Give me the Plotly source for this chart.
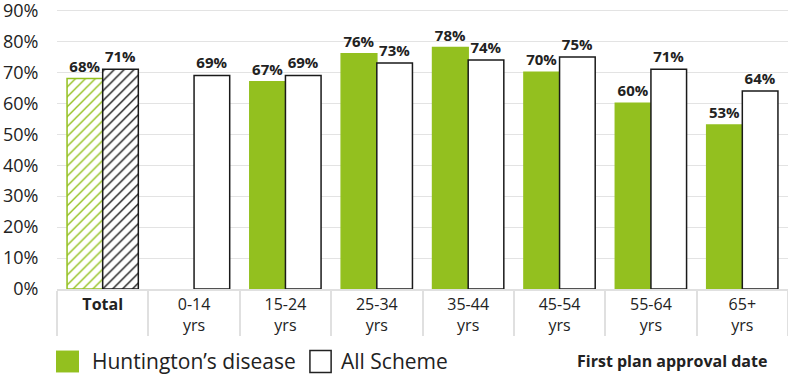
import plotly.graph_objects as go

categories = ["Total", "0-14 yrs", "15-24 yrs", "25-34 yrs", "35-44 yrs", "45-54 yrs", "55-64 yrs", "65+ yrs"]
tick_labels = ["<b>Total</b>", "0-14<br>yrs", "15-24<br>yrs",
               "25-34<br>yrs", "35-44<br>yrs", "45-54<br>yrs", "55-64<br>yrs", "65+<br>yrs"]
hd_values = [68, None, 67, 76, 78, 70, 60, 53]
all_values = [71, 69, 69, 73, 74, 75, 71, 64]
y_ticks = [0, 10, 20, 30, 40, 50, 60, 70, 80, 90]
y_tick_text = [f"{v}%" for v in y_ticks]

hd_text = ["" if v is None else f"{v}%" for v in hd_values]
all_text = [f"{v}%" for v in all_values]

GREEN = "#93C01F"
BLACK = "#1a1a1a"
FONT = "Open Sans"

n = len(categories)
pattern_shapes = ["/"] + [""] * (n - 1)

fig = go.Figure()
fig.add_trace(go.Bar(
    x=categories, y=hd_values, name="Huntington’s disease",
    marker=dict(
        color=GREEN,
        line=dict(color=GREEN, width=1.5),
        pattern=dict(shape=pattern_shapes, fgcolor=GREEN, bgcolor="white",
                     size=7, solidity=0.2, fillmode="replace"),
    ),
    text=hd_text, texttemplate="<b>%{text}</b>", textposition="outside", constraintext="none",
    textfont=dict(size=15, color="#222", family=FONT),
    cliponaxis=False, showlegend=False,
))
fig.add_trace(go.Bar(
    x=categories, y=all_values, name="All Scheme",
    marker=dict(
        color="white",
        line=dict(color=BLACK, width=1.5),
        pattern=dict(shape=pattern_shapes, fgcolor=BLACK, bgcolor="white",
                     size=7, solidity=0.2, fillmode="replace"),
    ),
    text=all_text, texttemplate="<b>%{text}</b>", textposition="outside", constraintext="none",
    textfont=dict(size=15, color="#222", family=FONT),
    cliponaxis=False, showlegend=False,
))

fig.update_layout(
    width=788, height=376,
    margin=dict(l=57, r=0, t=8, b=87),
    barmode="group", bargap=0.22, bargroupgap=0,
    plot_bgcolor="white", paper_bgcolor="white",
    font=dict(family=FONT, color="#222"),
    showlegend=False,
)
fig.update_yaxes(
    range=[0, 90.8], tickmode="array", tickvals=y_ticks, ticktext=y_tick_text,
    showgrid=True, gridcolor="#e3e3e3", gridwidth=1,
    zeroline=False, showline=False,
    tickfont=dict(size=18, color="#222", family=FONT),
    ticks="outside", ticklen=14, tickcolor="white",
    ticklabeloverflow="allow",
    automargin=False,
)
fig.update_xaxes(
    categoryorder="array", categoryarray=categories,
    tickmode="array", tickvals=categories, ticktext=tick_labels,
    tickfont=dict(size=16, color="#222", family=FONT),
    showline=True, linecolor="#e0e0e0", linewidth=1.5,
    ticks="outside", tickson="boundaries", ticklen=45, tickcolor="#e0e0e0", tickwidth=1.5,
    automargin=False,
)

# legend drawn manually
fig.add_shape(type="rect", xref="paper", yref="paper",
              x0=-0.0014, x1=0.0301, y0=-0.219, y1=-0.297,
              fillcolor=GREEN, line=dict(width=0))
fig.add_annotation(xref="paper", yref="paper", x=0.045, y=-0.258, xanchor="left", yanchor="middle",
                   text="Huntington’s disease", showarrow=False,
                   font=dict(size=21, color="#222", family=FONT))
fig.add_shape(type="rect", xref="paper", yref="paper",
              x0=0.346, x1=0.375, y0=-0.219, y1=-0.297,
              fillcolor="white", line=dict(width=1.5, color="#222"))
fig.add_annotation(xref="paper", yref="paper", x=0.386, y=-0.258, xanchor="left", yanchor="middle",
                   text="All Scheme", showarrow=False,
                   font=dict(size=21, color="#222", family=FONT))
fig.add_annotation(xref="paper", yref="paper", x=0.974, y=-0.258, xanchor="right", yanchor="middle",
                   text="<b>First plan approval date</b>", showarrow=False,
                   font=dict(size=16, color="#222", family=FONT))

fig.write_html("out.html", config={"displayModeBar": False},
               post_script="document.body.style.margin='0';")
